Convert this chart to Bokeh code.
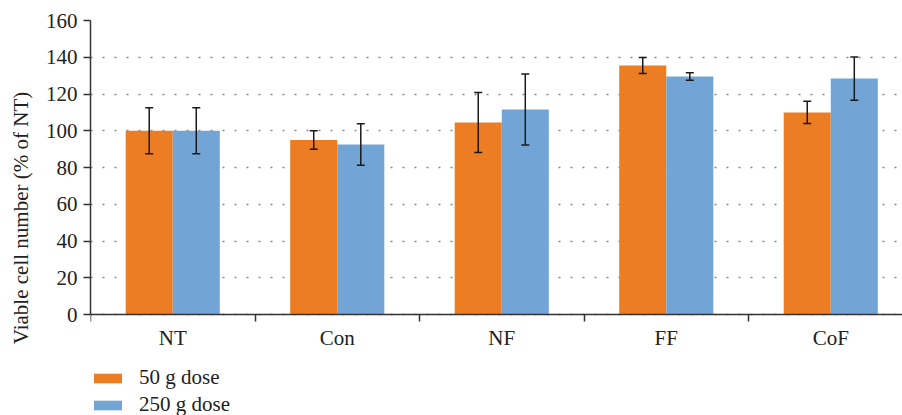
from bokeh.plotting import figure
from bokeh.models import Range1d, FixedTicker, ColumnDataSource, Whisker, Legend, LegendItem
from bokeh.embed import file_html
from bokeh.resources import INLINE

categories = ["NT", "Con", "NF", "FF", "CoF"]
dose50 = [100, 95, 104.5, 135.5, 110]
dose50_err = [12.5, 5, 16.3, 4.3, 6]
dose250 = [100, 92.5, 111.6, 129.5, 128.4]
dose250_err = [12.5, 11.3, 19.3, 2, 11.8]
series_names = ["50 g dose", "250 g dose"]
y_ticks = [0, 20, 40, 60, 80, 100, 120, 140, 160]

ORANGE = "#ED7D22"
BLUE = "#72A5D6"
FONT = "Liberation Serif"
FS = "21px"

# layout: plot area 294 px tall for 0..160, frame extends 101 px below zero for the legend
PLOT_H = 294
EXTRA_H = 101
Y_MAX = 160
y_low = -Y_MAX * EXTRA_H / PLOT_H

n = len(categories)
bw = 0.286
centers = [i + 0.5 for i in range(n)]
x50 = [c - bw / 2 for c in centers]
x250 = [c + bw / 2 for c in centers]

p = figure(width=902, height=415, frame_width=812, frame_height=PLOT_H + EXTRA_H,
           output_backend="svg", toolbar_location=None,
           x_range=Range1d(0, 4.936), y_range=Range1d(y_low, Y_MAX),
           min_border_left=90, min_border_right=0, min_border_top=20, min_border_bottom=0)
p.outline_line_color = None
p.background_fill_color = "white"

s50 = ColumnDataSource(dict(x=x50, top=dose50, upper=[v + e for v, e in zip(dose50, dose50_err)],
                            lower=[v - e for v, e in zip(dose50, dose50_err)]))
s250 = ColumnDataSource(dict(x=x250, top=dose250, upper=[v + e for v, e in zip(dose250, dose250_err)],
                             lower=[v - e for v, e in zip(dose250, dose250_err)]))

r1 = p.vbar(x="x", top="top", bottom=0, width=bw, source=s50, fill_color=ORANGE, line_color=None)
r2 = p.vbar(x="x", top="top", bottom=0, width=bw, source=s250, fill_color=BLUE, line_color=None)

for src in (s50, s250):
    w = Whisker(base="x", upper="upper", lower="lower", source=src,
                line_color="#1a1a1a", line_width=1.5, level="overlay")
    for h in (w.upper_head, w.lower_head):
        h.size = 8
        h.line_color = "#1a1a1a"
        h.line_width = 1.5
    p.add_layout(w)

# x axis drawn at y = 0
p.xaxis.fixed_location = 0
p.xaxis.ticker = FixedTicker(ticks=centers, minor_ticks=list(range(n)))
p.xaxis.major_label_overrides = {c: lab for c, lab in zip(centers, categories)}
p.xaxis.major_tick_out = 0
p.xaxis.major_tick_in = 0
p.xaxis.minor_tick_out = 7
p.xaxis.minor_tick_in = 0
p.xaxis.minor_tick_line_color = "#333333"
p.xaxis.minor_tick_line_width = 1.5
p.xaxis.axis_line_color = "#333333"
p.xaxis.axis_line_width = 1.5
p.xaxis.major_label_standoff = 4
p.xaxis.major_label_text_font = FONT
p.xaxis.major_label_text_font_size = FS
p.xaxis.major_label_text_color = "#222222"

p.yaxis.ticker = FixedTicker(ticks=y_ticks)
p.yaxis.bounds = (0, Y_MAX)
p.yaxis.minor_tick_line_color = None
p.yaxis.major_tick_out = 7
p.yaxis.major_tick_in = 0
p.yaxis.major_tick_line_color = "#333333"
p.yaxis.major_tick_line_width = 1.5
p.yaxis.axis_line_color = "#333333"
p.yaxis.axis_line_width = 1.5
p.yaxis.major_label_standoff = 6
p.yaxis.major_label_text_font = FONT
p.yaxis.major_label_text_font_size = FS
p.yaxis.major_label_text_color = "#222222"
p.yaxis.axis_label = "Viable cell number (% of NT)"
p.yaxis.axis_label_text_font = FONT
p.yaxis.axis_label_text_font_size = FS
p.yaxis.axis_label_text_font_style = "normal"
p.yaxis.axis_label_text_color = "#222222"
p.yaxis.axis_label_standoff = 10

p.xgrid.grid_line_color = None
p.ygrid.grid_line_color = "#888888"
p.ygrid.grid_line_dash = "2 10"
p.ygrid.grid_line_width = 1.5

legend = Legend(items=[LegendItem(label=series_names[0], renderers=[r1]),
                       LegendItem(label=series_names[1], renderers=[r2])],
                location=(0, -2), orientation="vertical",
                glyph_width=35, glyph_height=12, label_height=18, spacing=2,
                label_standoff=14, padding=0, margin=0,
                border_line_color=None, background_fill_alpha=0,
                label_text_font=FONT, label_text_font_size=FS, label_text_color="#222222")
p.add_layout(legend, "center")

open("out.html", "w").write(file_html(p, INLINE))
